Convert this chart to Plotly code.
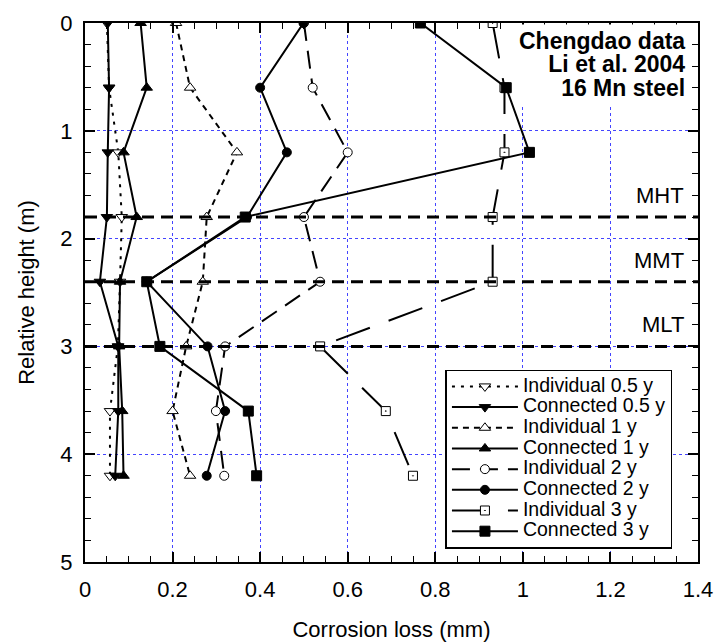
import plotly.graph_objects as go

# ---- data ----
heights = [0, 0.6, 1.2, 1.8, 2.4, 3.0, 3.6, 4.2]

ind_05 = [0.05, 0.055, 0.076, 0.084, 0.08, 0.075, 0.057, 0.057]
con_05 = [0.052, 0.055, 0.052, 0.05, 0.034, 0.076, 0.076, 0.069]
ind_1 = [0.208, 0.24, 0.347, 0.278, 0.269, 0.231, 0.2, 0.24]
con_1 = [0.127, 0.141, 0.088, 0.118, 0.08, 0.078, 0.085, 0.088]
ind_2 = [0.5, 0.52, 0.60, 0.50, 0.537, 0.32, 0.299, 0.318]
con_2 = [0.499, 0.40, 0.461, 0.37, 0.141, 0.28, 0.32, 0.278]
ind_3 = [0.931, 0.958, 0.958, 0.931, 0.931, 0.537, 0.687, 0.749]
con_3 = [0.766, 0.962, 1.015, 0.366, 0.141, 0.171, 0.373, 0.392]

series_names = ["Individual 0.5 y", "Connected 0.5 y", "Individual 1 y", "Connected 1 y",
                "Individual 2 y", "Connected 2 y", "Individual 3 y", "Connected 3 y"]
series_values = [ind_05, con_05, ind_1, con_1, ind_2, con_2, ind_3, con_3]

zone_heights = [1.8, 2.4, 3.0]
zone_labels = ["MHT", "MMT", "MLT"]

x_range = [0, 1.4]
y_range = [5, 0]

# ---- styles ----
styles = [
    dict(symbol="triangle-down", color="white", size=10, dash="3px,6px"),
    dict(symbol="triangle-down", color="black", size=10, dash="solid"),
    dict(symbol="triangle-up", color="white", size=10, dash="6px,5px"),
    dict(symbol="triangle-up", color="black", size=10, dash="solid"),
    dict(symbol="circle", color="white", size=9, dash="18px,10px"),
    dict(symbol="circle", color="black", size=9, dash="solid"),
    dict(symbol="square-dot", color="white", size=9, dash="36px,20px"),
    dict(symbol="square", color="black", size=10, dash="solid"),
]

FONT = "Liberation Sans, Arial, Helvetica, sans-serif"

fig = go.Figure()
for name, vals, st in zip(series_names, series_values, styles):
    fig.add_trace(go.Scatter(
        x=vals, y=heights, mode="lines+markers",
        name=f"<span style='font-size:19.5px'>{name}</span>",
        line=dict(color="black", width=2, dash=st["dash"]),
        marker=dict(symbol=st["symbol"], color=st["color"], size=st["size"],
                    line=dict(color="black", width=1)),
    ))

for h in zone_heights:
    fig.add_shape(type="line", xref="paper", x0=0, x1=1, yref="y", y0=h, y1=h,
                  line=dict(color="black", width=3, dash="12px,7px"), layer="above")

for h, lab in zip(zone_heights, zone_labels):
    fig.add_annotation(xref="paper", x=1, xanchor="right", xshift=-12,
                       yref="y", y=h, yanchor="bottom", yshift=7,
                       text=lab, showarrow=False,
                       font=dict(family=FONT, size=22, color="black"))

fig.add_annotation(xref="paper", x=1, xanchor="right", xshift=-9,
                   yref="paper", y=1, yanchor="top", yshift=-1,
                   text="<span style='font-size:23px'>Chengdao data</span><br>"
                        "<span style='font-size:23px'>Li et al. 2004</span><br>"
                        "<span style='font-size:23px'>16 Mn steel</span>",
                   showarrow=False, align="right", bgcolor="white", borderpad=3,
                   font=dict(family=FONT, size=18, color="black", weight="bold"))

axis_common = dict(
    showline=True, linecolor="black", linewidth=2, mirror="ticks",
    ticks="inside", ticklen=10, tickwidth=1.5, tickcolor="black",
    showgrid=True, gridcolor="#4444ff", gridwidth=1, griddash="dot",
    zeroline=False,
    tickfont=dict(family=FONT, size=22, color="black"),
)

fig.update_xaxes(range=x_range, dtick=0.2, tick0=0,
                 minor=dict(dtick=0.05, ticks="inside", ticklen=6, tickcolor="black", tickwidth=1.2, showgrid=False),
                 title=dict(text="Corrosion loss (mm)", font=dict(family=FONT, size=22, color="black"), standoff=20),
                 ticklabelstandoff=7,
                 **axis_common)
fig.update_yaxes(range=y_range, dtick=1, tick0=0,
                 minor=dict(dtick=0.2, ticks="inside", ticklen=6, tickcolor="black", tickwidth=1.2, showgrid=False),
                 title=dict(text="Relative height (m)", font=dict(family=FONT, size=22, color="black"), standoff=20),
                 ticklabelstandoff=6,
                 **axis_common)

fig.update_layout(
    width=716, height=642,
    margin=dict(l=85, r=18, t=23, b=80, autoexpand=False),
    paper_bgcolor="white", plot_bgcolor="white",
    font=dict(family=FONT, color="black"),
    showlegend=True,
    legend=dict(x=0.588, y=0.357, xanchor="left", yanchor="top",
                bgcolor="white", bordercolor="black", borderwidth=1.5,
                font=dict(family=FONT, size=13.6, color="black"),
                itemwidth=66, tracegroupgap=0),
)

fig.write_html("out.html", config={"displayModeBar": False},
               post_script="document.body.style.margin='0';document.body.style.overflow='hidden';")
